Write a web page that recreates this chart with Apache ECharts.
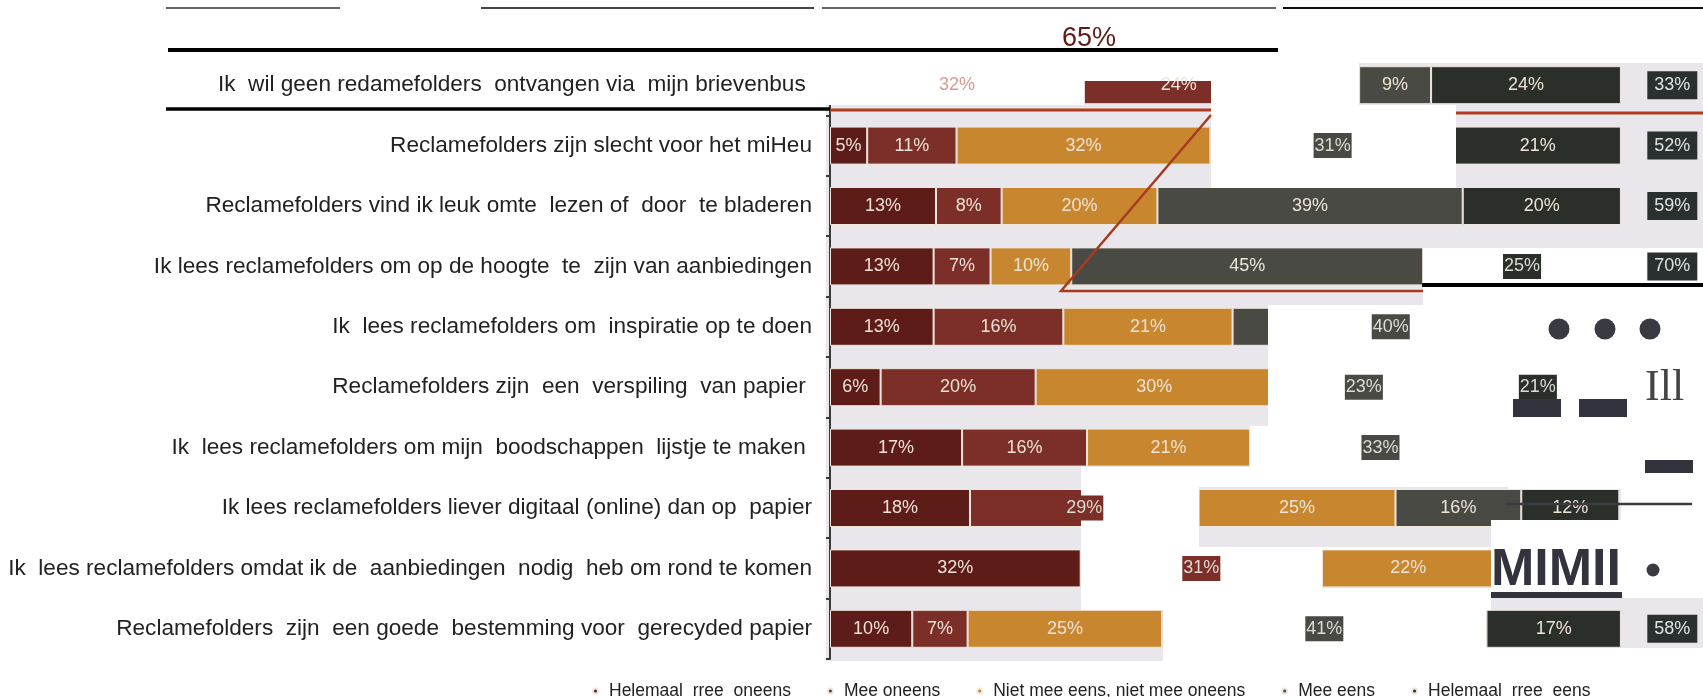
<!DOCTYPE html>
<html>
<head>
<meta charset="utf-8">
<style>html,body{margin:0;background:#fff}#bar{width:1703px;height:697px}</style>
<script src="https://cdn.jsdelivr.net/npm/echarts@6/dist/echarts.min.js"></script>
</head>
<body>
<div id="bar"></div>
<script>
var stellingen = [
  'Ik  wil geen redamefolders  ontvangen via  mijn brievenbus ',
  'Reclamefolders zijn slecht voor het miHeu',
  'Reclamefolders vind ik leuk omte  lezen of  door  te bladeren',
  'Ik lees reclamefolders om op de hoogte  te  zijn van aanbiedingen',
  'Ik  lees reclamefolders om  inspiratie op te doen',
  'Reclamefolders zijn  een  verspiling  van papier ',
  'Ik  lees reclamefolders om mijn  boodschappen  lijstje te maken ',
  'Ik lees reclamefolders liever digitaal (online) dan op  papier',
  'Ik  lees reclamefolders omdat ik de  aanbiedingen  nodig  heb om rond te komen',
  'Reclamefolders  zijn  een goede  bestemming voor  gerecyded papier'
];
var antwoorden = ['Helemaal  rree  oneens', 'Mee oneens', 'Niet mee eens, niet mee oneens', 'Mee eens', 'Helemaal  rree  eens'];
var helemaalOneens = [32.1, 4.7, 13.4, 13.1, 13.1, 6.4, 16.7, 17.7, 31.7, 10.4];
var meeOneens = [24, 11.3, 8.3, 7.2, 16.4, 19.6, 15.8, 28.9, 30.5, 7];
var neutraal = [10.8, 32.1, 19.7, 10.2, 21.4, 30, 20.6, 24.9, 21.8, 24.6];
var meeEens = [9.1, 30.9, 38.6, 44.5, 40, 23, 33, 15.9, null, 41];
var helemaalEens = [24, 21, 20, 25, null, 21, null, 12.4, null, 17];
var totaal = [33, 52, 59, 70, null, null, null, null, null, 58];
var kleuren = ['#5e1c18', '#7b2f28', '#c8872f', '#4a4a44', '#2a2f2a'];

// welke labels los in een blokje staan: [rij, antwoord]
var blokLabels = [[1, 3], [3, 4], [4, 3], [5, 3], [5, 4], [6, 3], [7, 1], [8, 1], [9, 3]];
var waardes = [helemaalOneens, meeOneens, neutraal, meeEens, helemaalEens];

var series = [];
// de balken zelf
antwoorden.forEach(function (naam, s) {
  series.push({
    name: naam,
    type: 'bar',
    stack: 'balk',
    z: 2,
    barWidth: 38,
    barGap: '-100%',
    data: waardes[s],
    itemStyle: { color: kleuren[s], borderColor: '#efe6dc', borderWidth: 1 }
  });
});
// labels apart, die moeten boven de witte vlakken blijven
antwoorden.forEach(function (naam, s) {
  series.push({
    name: naam + ' label',
    type: 'bar',
    stack: 'label',
    z: 5,
    barWidth: 38,
    barGap: '-100%',
    silent: true,
    itemStyle: { color: 'transparent' },
    label: {
      show: true,
      position: 'inside',
      color: '#eee3d6',
      fontFamily: 'Liberation Sans',
      fontSize: 18,
      formatter: function (p) { return Math.round(p.value) + '%'; }
    },
    data: waardes[s].map(function (v, r) {
      var item = { value: v };
      var blok = blokLabels.some(function (b) { return b[0] === r && b[1] === s; });
      if (blok) {
        item.label = { backgroundColor: kleuren[s], padding: [4, 1, 3, 1], color: '#dcdcd4' };
      }
      if (r === 0 && s === 0) {
        item.label = { color: '#d99a90' };
      }
      // dit segment is in de scan helemaal weg
      if (r === 0 && s === 2) {
        item.label = { show: false };
      }
      return item;
    })
  });
});
// totalen rechts
series.push({
  name: 'totaal',
  type: 'scatter',
  z: 5,
  symbol: 'rect',
  symbolSize: [50, 28],
  itemStyle: { color: '#2a3030', opacity: 1 },
  label: {
    show: true,
    position: 'inside',
    color: '#dfe2de',
    fontFamily: 'Liberation Sans',
    fontSize: 18,
    formatter: function (p) { return p.value[2] + '%'; }
  },
  data: totaal.map(function (v, r) {
    return v === null ? null : [106.5, stellingen[r], v];
  }).filter(function (d) { return d; })
});

var wit = [
  [820, 53, 1703, 63], [820, 63, 1359, 81], [820, 81, 1084, 105], [1211, 81, 1359, 105],
  [1211, 105, 1456, 188], [1423, 248, 1703, 305], [1268, 305, 1703, 426], [1250, 426, 1703, 487],
  [1081, 467, 1199, 610], [1199, 467, 1250, 487], [1621, 487, 1703, 520], [1508, 487, 1621, 489],
  [1491, 520, 1703, 598], [1199, 547, 1322, 610], [1322, 547, 1491, 550], [1322, 588, 1491, 610],
  [1163, 610, 1486, 662], [1486, 648, 1703, 662]
];
var graphic = [{ type: 'rect', z: -1, shape: { x: 826, y: 53, width: 877, height: 608 }, style: { fill: '#e9e7eb' } }];
wit.forEach(function (w) {
  graphic.push({ type: 'rect', z: 3, shape: { x: w[0], y: w[1], width: w[2] - w[0], height: w[3] - w[1] }, style: { fill: '#fff' } });
});
function streep (x1, y1, x2, y2, dik, kleur) {
  graphic.push({ type: 'line', z: 6, shape: { x1: x1, y1: y1, x2: x2, y2: y2 }, style: { stroke: kleur, lineWidth: dik } });
}
function vlak (x1, y1, x2, y2, kleur) {
  graphic.push({ type: 'rect', z: 6, shape: { x: x1, y: y1, width: x2 - x1, height: y2 - y1 }, style: { fill: kleur } });
}
function stip (x, y, r) {
  graphic.push({ type: 'circle', z: 6, shape: { cx: x, cy: y, r: r }, style: { fill: '#3a3a42' } });
}
function tekst (x, y, t, font, kleur) {
  graphic.push({ type: 'text', z: 6, x: x, y: y, style: { text: t, font: font, fill: kleur } });
}
// lijnen boven en links
streep(166, 8, 340, 8, 1.5, '#333');
streep(481, 8, 814, 8, 2, '#444');
streep(822, 8, 1276, 8, 1.5, '#333');
streep(1283, 8, 1703, 8, 2, '#111');
streep(168, 50, 1278, 50, 4, '#000');
streep(166, 109, 830, 109, 3.5, '#000');
streep(1422, 285, 1703, 285, 4, '#000');
// rode lijnen
streep(830, 110, 1211, 110, 3, '#b23c22');
streep(1456, 113, 1703, 113, 3, '#b23c22');
graphic.push({ type: 'polyline', z: 6, shape: { points: [[1211, 115], [1061, 291], [1423, 291]] }, style: { stroke: '#a83a22', lineWidth: 2.5, fill: null } });
// rommel uit de scan
stip(1559, 329, 10.5);
stip(1605, 329, 10.5);
stip(1650, 329, 10.5);
stip(1653, 570, 6.5);
vlak(1513, 399, 1561, 417, '#33333d');
vlak(1579, 399, 1627, 417, '#33333d');
vlak(1645, 460, 1693, 473, '#33333d');
vlak(1491, 592, 1622, 598, '#33333d');
streep(1505, 504, 1692, 504, 2.5, '#3c3c40');
tekst(1645, 366, 'Ill', '44px "Liberation Serif"', '#444');
tekst(1491, 545, 'MIMII', 'bold 52px "Liberation Sans"', '#33333d');
tekst(1062, 25, '65%', '27px "Liberation Sans"', '#5e1c18');

var myChart = echarts.init(document.getElementById('bar'));
var option = {
  animation: false,
  textStyle: { fontFamily: 'Liberation Sans' },
  grid: { left: 830, top: 55, width: 870, height: 604 },
  legend: {
    data: antwoorden,
    left: 587,
    top: 677,
    icon: 'circle',
    itemWidth: 5,
    itemHeight: 5,
    itemGap: 36,
    selectedMode: false,
    textStyle: { fontSize: 17.5, color: '#222', padding: [0, 0, 0, 6] }
  },
  xAxis: { type: 'value', min: 0, max: 110, show: false },
  yAxis: {
    type: 'category',
    inverse: true,
    data: stellingen,
    axisLine: { show: true, lineStyle: { color: '#3a3a3a', width: 2 } },
    axisTick: { show: true, length: 4, lineStyle: { color: '#3a3a3a', width: 2 } },
    axisLabel: { color: '#222', fontSize: 22.6, margin: 18, padding: [2, 0, 0, 0], fontFamily: 'Liberation Sans' }
  },
  series: series,
  graphic: graphic
};
myChart.setOption(option);
window.addEventListener('resize', function () {
  myChart.resize();
});
</script>
</body>
</html>
